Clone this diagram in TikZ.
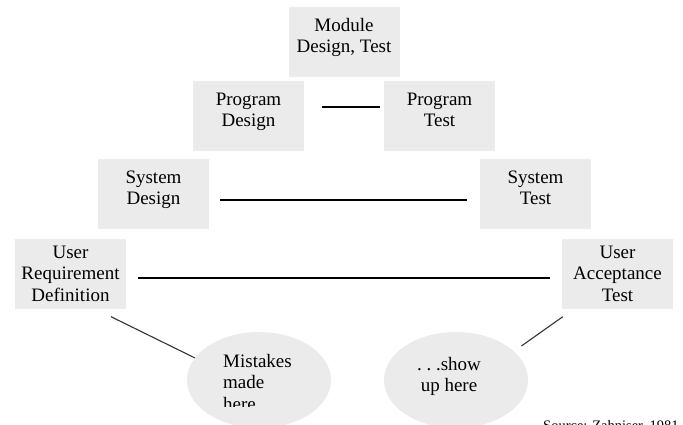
\documentclass[tikz,border=0pt]{standalone}
\usepackage{fontspec}
\setmainfont{Liberation Serif}
\usepackage{tikz}
\usetikzlibrary{shapes.geometric}
\definecolor{boxgray}{HTML}{EBEBEB}
\newcommand{\vfont}{\fontsize{19}{21.5}\selectfont}
\newcommand{\lift}{\rule[-13pt]{0pt}{13pt}}

\begin{document}
\begin{tikzpicture}[x=1pt,y=-1pt,
    stage/.style={fill=boxgray, minimum width=111pt, minimum height=70pt,
      inner sep=0pt, align=center, font=\vfont},
    blob/.style={ellipse, fill=boxgray, minimum width=144pt, minimum height=96pt, inner sep=0pt},
    note/.style={inner sep=0pt, font=\vfont},
    link/.style={line width=1.5pt},
    tie/.style={line width=1.1pt, draw=black!80}]
    \useasboundingbox (0,0) rectangle (683,425);

    \node[stage] (MD) at (344,42) {Module\\Design, Test\lift};
    \node[stage] (PD) at (248.5,116.5) {Program\\Design\lift};
    \node[stage] (PT) at (439.5,116.5) {Program\\Test\lift};
    \node[stage] (SD) at (153.5,194) {System\\Design\lift};
    \node[stage] (ST) at (535.5,194) {System\\Test\lift};
    \node[stage] (URD) at (70.5,273.5) {User\\Requirement\\Definition};
    \node[stage] (UAT) at (617.5,273.5) {User\\Acceptance\\Test};

    \node[blob] (mistakes) at (259,380) {};
    \node[blob] (show) at (456,380) {};
    \begin{scope}
      \clip (0,0) rectangle (683,406);
      \node[note, align=left, anchor=north west] (mistakestext) at (223,354) {Mistakes\\made\\here};
    \end{scope}
    \node[note, align=center, anchor=north] (showtext) at (449,357) {.\ .\ .show\\up here};

    \node[inner sep=0pt, anchor=north west, font=\fontsize{14.5}{16}\selectfont] (src) at (543,420.5) {Source: Zahniser, 1981};

    \draw[link] ([shift={(18,-9.5)}]PD.east) -- ([shift={(-4,-9.5)}]PT.west);
    \draw[link] ([shift={(11,6)}]SD.east) -- ([shift={(-13,6)}]ST.west);
    \draw[link] ([shift={(12,4.5)}]URD.east) -- ([shift={(-12,4.5)}]UAT.west);
    \draw[tie] ([shift={(40.5,8)}]URD.south) -- (mistakes.161);
    \draw[tie] ([shift={(9,-4)}]show.28) -- ([shift={(1,8)}]UAT.south west);
  \end{tikzpicture}
\end{document}
